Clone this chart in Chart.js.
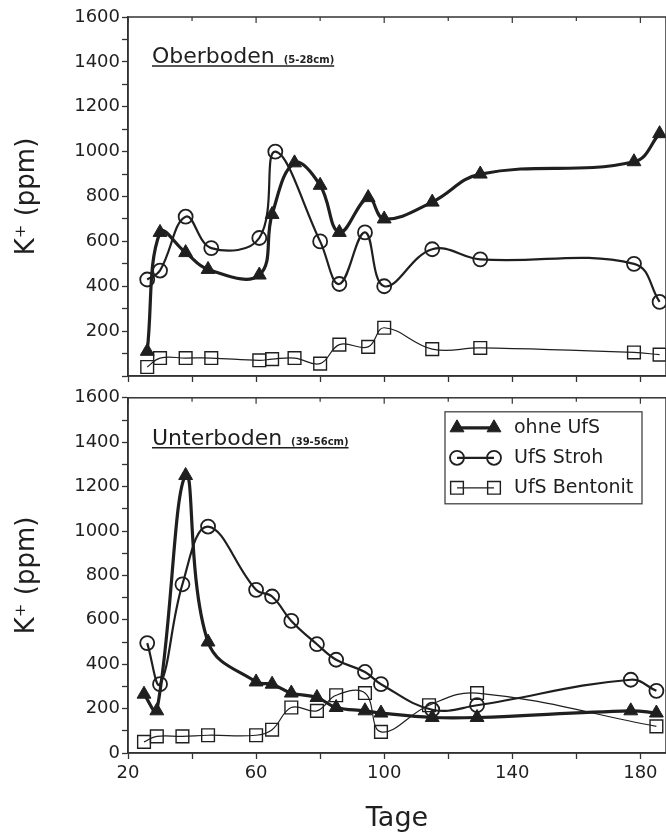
<!DOCTYPE html>
<html>
<head>
<meta charset="utf-8">
<script src="https://cdn.jsdelivr.net/npm/chart.js@4.4.1/dist/chart.umd.min.js"></script>
<style>
  body { margin: 0; background: #fff; }
  #wrap { position: relative; width: 666px; height: 838px; overflow: hidden; }
  canvas { position: absolute; left: 0; }
  #top { top: 0; }
  #bottom { top: 385px; }
</style>
</head>
<body>
<div id="wrap">
  <canvas id="top" width="666" height="390"></canvas>
  <canvas id="bottom" width="666" height="453"></canvas>
</div>
<script>
// Oberboden (5-28cm)
const daysOhneTop = [26, 30, 38, 45, 61, 65, 72, 80, 86, 95, 100, 115, 130, 178, 186];
const ohneTop = [110, 640, 550, 475, 450, 720, 950, 850, 640, 795, 700, 775, 900, 955, 1080];
const daysStrohTop = [26, 30, 38, 46, 61, 66, 80, 86, 94, 100, 115, 130, 178, 186];
const strohTop = [430, 470, 710, 570, 615, 1000, 600, 410, 640, 400, 565, 520, 500, 330];
const daysBentTop = [26, 30, 38, 46, 61, 65, 72, 80, 86, 95, 100, 115, 130, 178, 186];
const bentTop = [40, 80, 80, 80, 70, 75, 80, 55, 140, 130, 215, 120, 125, 105, 95];

// Unterboden (39-56cm)
const daysOhneBot = [25, 29, 38, 45, 60, 65, 71, 79, 85, 94, 99, 115, 129, 177, 185];
const ohneBot = [265, 190, 1250, 500, 320, 310, 270, 250, 205, 190, 180, 160, 160, 190, 180];
const daysStrohBot = [26, 30, 37, 45, 60, 65, 71, 79, 85, 94, 99, 115, 129, 177, 185];
const strohBot = [495, 310, 760, 1020, 735, 705, 595, 490, 420, 365, 310, 195, 215, 330, 280];
const daysBentBot = [25, 29, 37, 45, 60, 65, 71, 79, 85, 94, 99, 114, 129, 185];
const bentBot = [50, 75, 75, 80, 80, 105, 205, 190, 260, 270, 95, 215, 270, 120];

const seriesNames = ['ohne UfS', 'UfS Stroh', 'UfS Bentonit'];
const xTickLabels = [20, 60, 100, 140, 180];
const yTickLabels = [200, 400, 600, 800, 1000, 1200, 1400, 1600];

const INK = '#1f1f1f';
const FONT = 'DejaVu Sans';
const CURVE = 0.4;

const toPoints = (xs, ys) => xs.map((x, i) => ({ x: x, y: ys[i] }));

const makeDatasets = (dO, vO, dS, vS, dB, vB) => [
  {
    label: seriesNames[0], data: toPoints(dO, vO),
    borderColor: INK, borderWidth: 3.2, tension: CURVE,
    pointStyle: 'triangle', pointRadius: 8, pointBorderWidth: 1,
    pointBackgroundColor: INK, pointBorderColor: INK,
  },
  {
    label: seriesNames[1], data: toPoints(dS, vS),
    borderColor: INK, borderWidth: 2.2, tension: CURVE,
    pointStyle: 'circle', pointRadius: 7, pointBorderWidth: 1.8,
    pointBackgroundColor: 'rgba(0,0,0,0)', pointBorderColor: INK,
  },
  {
    label: seriesNames[2], data: toPoints(dB, vB),
    borderColor: INK, borderWidth: 1.2, tension: CURVE,
    pointStyle: 'rect', pointRadius: 9, pointBorderWidth: 1.4,
    pointBackgroundColor: 'rgba(0,0,0,0)', pointBorderColor: INK,
  },
];

// frame round the plot area plus small inner ticks on the top edge
const framePlugin = {
  id: 'frame',
  afterDraw(chart) {
    const { ctx, chartArea: a, scales } = chart;
    ctx.save();
    ctx.strokeStyle = '#333';
    ctx.lineWidth = 1.5;
    ctx.strokeRect(a.left, a.top, a.right - a.left, a.bottom - a.top);
    ctx.lineWidth = 1.2;
    for (let d = 20; d <= 188; d += 20) {
      const px = scales.x.getPixelForValue(d);
      const len = xTickLabels.includes(d) ? 6 : 4;
      ctx.beginPath();
      ctx.moveTo(px, a.top);
      ctx.lineTo(px, a.top + len);
      ctx.stroke();
    }
    ctx.restore();
  }
};

// panel title (underlined) and, for the lower panel, the legend box
const labelPlugin = {
  id: 'labels',
  afterDraw(chart, args, opts) {
    const { ctx, chartArea: a } = chart;
    ctx.save();
    ctx.fillStyle = INK;
    ctx.strokeStyle = INK;
    ctx.textBaseline = 'alphabetic';
    const tx = a.left + 24;
    const ty = a.top + opts.titleDy;
    ctx.font = '22px "' + FONT + '"';
    ctx.fillText(opts.title, tx, ty);
    const w1 = ctx.measureText(opts.title).width;
    ctx.font = 'bold 10px "' + FONT + '"';
    ctx.fillText(opts.sub, tx + w1 + 9, ty);
    const w2 = ctx.measureText(opts.sub).width;
    ctx.lineWidth = 1.5;
    ctx.beginPath();
    ctx.moveTo(tx, ty + 3);
    ctx.lineTo(tx + w1 + 9 + w2, ty + 3);
    ctx.stroke();

    if (opts.legend) {
      const bx = a.left + 317, by = a.top + 14, bw = 197, bh = 92;
      ctx.lineWidth = 1.3;
      ctx.strokeStyle = '#444';
      ctx.strokeRect(bx, by, bw, bh);
      ctx.font = '19px "' + FONT + '"';
      ctx.textBaseline = 'middle';
      chart.data.datasets.forEach((ds, i) => {
        const cy = by + 16 + i * 30;
        const x1 = bx + 12, x2 = bx + 49;
        ctx.strokeStyle = INK;
        ctx.lineWidth = ds.borderWidth;
        ctx.beginPath();
        ctx.moveTo(x1, cy);
        ctx.lineTo(x2, cy);
        ctx.stroke();
        const pOpts = {
          pointStyle: ds.pointStyle, radius: ds.pointRadius,
          borderWidth: ds.pointBorderWidth, rotation: 0
        };
        [x1, x2].forEach(px => {
          ctx.fillStyle = ds.pointBackgroundColor;
          ctx.strokeStyle = ds.pointBorderColor;
          ctx.lineWidth = ds.pointBorderWidth;
          Chart.helpers.drawPoint(ctx, pOpts, px, cy);
        });
        ctx.fillStyle = INK;
        ctx.fillText(ds.label, bx + 69, cy);
      });
    }
    ctx.restore();
  }
};

const makeOptions = (isBottom, topPad, xHeight, labelOpts) => ({
  responsive: false,
  animation: false,
  layout: { autoPadding: false, padding: { top: topPad, left: 0, right: 0, bottom: 0 } },
  plugins: {
    legend: { display: false },
    tooltip: { enabled: false },
    labels: labelOpts,
  },
  scales: {
    x: {
      type: 'linear', min: 20, max: 188,
      ticks: {
        stepSize: 20, includeBounds: false, autoSkip: false, maxRotation: 0,
        display: isBottom, padding: 4, color: INK,
        font: { family: FONT, size: 18 },
        callback: v => xTickLabels.includes(v) ? String(v) : '',
      },
      grid: { drawOnChartArea: false, tickLength: 6, tickColor: '#333', tickWidth: 1.3 },
      border: { display: true, color: '#333', width: 1.5 },
      title: {
        display: isBottom, text: 'Tage', color: INK,
        font: { family: FONT, size: 27 }, padding: { top: 0, bottom: 3 },
      },
      afterFit: s => { s.height = xHeight; },
    },
    y: {
      type: 'linear', min: 0, max: 1600,
      ticks: {
        stepSize: 100, autoSkip: false, padding: 2, color: INK,
        font: { family: FONT, size: 18 },
        callback: v => (yTickLabels.includes(v) || (isBottom && v === 0)) ? String(v) : '',
      },
      grid: { drawOnChartArea: false, tickLength: 6, tickColor: '#333', tickWidth: 1.3 },
      border: { display: true, color: '#333', width: 1.5 },
      title: {
        display: true, text: 'K\u207A (ppm)', color: INK,
        font: { family: FONT, size: 26 }, padding: { top: 12, bottom: 0 },
      },
      afterFit: s => { s.width = 128; },
    },
  },
});

new Chart(document.getElementById('top').getContext('2d'), {
  type: 'line',
  data: { datasets: makeDatasets(daysOhneTop, ohneTop, daysStrohTop, strohTop, daysBentTop, bentTop) },
  options: makeOptions(false, 17, 14, { title: 'Oberboden', sub: '(5-28cm)', titleDy: 46, legend: false }),
  plugins: [framePlugin, labelPlugin],
});

new Chart(document.getElementById('bottom').getContext('2d'), {
  type: 'line',
  data: { datasets: makeDatasets(daysOhneBot, ohneBot, daysStrohBot, strohBot, daysBentBot, bentBot) },
  options: makeOptions(true, 12, 85, { title: 'Unterboden', sub: '(39-56cm)', titleDy: 47, legend: true }),
  plugins: [framePlugin, labelPlugin],
});
</script>
</body>
</html>
